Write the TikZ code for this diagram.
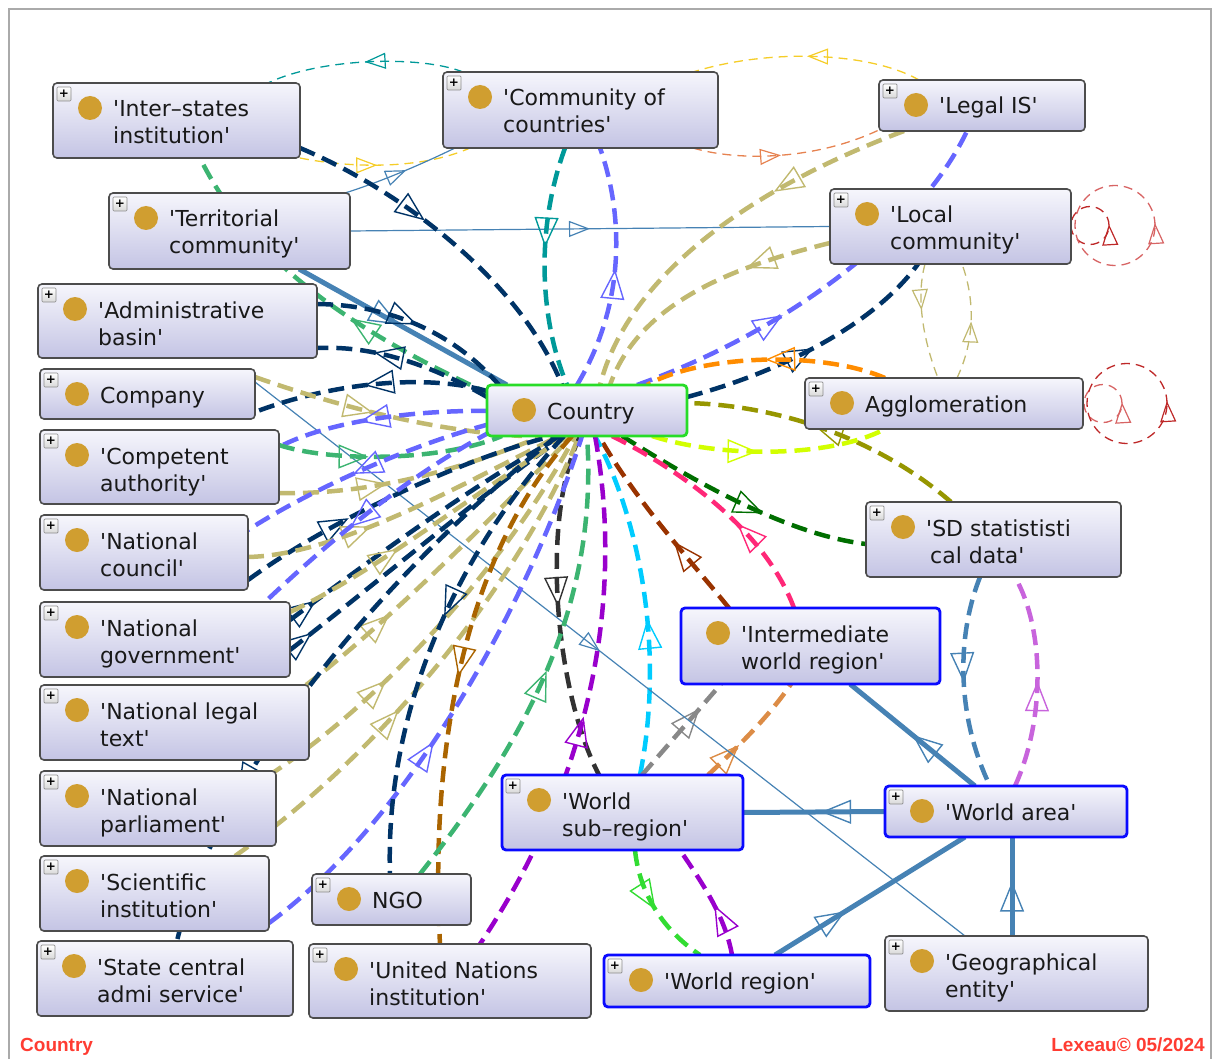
\documentclass[tikz,border=0pt]{standalone}
\usepackage{fontspec}
\newfontfamily\boxfont{DejaVu Sans}[Ligatures=TeXOff]
\newfontfamily\footfont{Liberation Sans}
\usetikzlibrary{arrows.meta,decorations.markings,backgrounds}

\definecolor{boxtop}{RGB}{246,246,252}
\definecolor{boxbot}{RGB}{196,196,228}
\definecolor{rootc}{RGB}{40,220,40}
\definecolor{wc}{RGB}{10,10,255}
\definecolor{dotc}{RGB}{208,158,48}
\definecolor{redc}{RGB}{255,60,50}
\definecolor{framec}{RGB}{170,170,170}
\definecolor{navyc}{RGB}{0,51,102}
\definecolor{khakic}{RGB}{193,185,112}
\definecolor{violc}{RGB}{102,102,255}
\definecolor{seac}{RGB}{60,180,113}
\definecolor{tealc}{RGB}{0,153,153}
\definecolor{steelc}{RGB}{70,130,180}
\definecolor{goldc}{RGB}{245,205,40}
\definecolor{coralc}{RGB}{230,130,80}
\definecolor{orangec}{RGB}{255,140,0}
\definecolor{olivec}{RGB}{150,150,0}
\definecolor{chartc}{RGB}{210,255,0}
\definecolor{dgreenc}{RGB}{0,110,0}
\definecolor{pinkc}{RGB}{255,40,120}
\definecolor{brownc}{RGB}{153,51,0}
\definecolor{cyanc}{RGB}{0,204,255}
\definecolor{dgrayc}{RGB}{50,50,50}
\definecolor{purplec}{RGB}{153,0,204}
\definecolor{limec}{RGB}{50,220,50}
\definecolor{orchidc}{RGB}{200,100,220}
\definecolor{grayc}{RGB}{136,136,136}
\definecolor{peruc}{RGB}{220,140,70}
\definecolor{umberc}{RGB}{170,100,0}
\definecolor{loopc}{RGB}{190,40,40}
\definecolor{loopl}{RGB}{215,100,100}

% a class box with its dot and label
\newcommand{\klassbare}[7][]{%
  \node[cls,#1,minimum width={#5-#3},minimum height={#6-#4}] (#2) at (#3,#4) {};
  \node[dot] (#2-d) at ([shift={(37,25)}]#2.north west) {};
  \node[lbl] (#2-t) at ([shift={(60,34)}]#2.north west)
    {\begin{tabular}[t]{@{}l@{}}#7\end{tabular}};}
% the same with the expand button
\newcommand{\klass}[7][]{%
  \klassbare[#1]{#2}{#3}{#4}{#5}{#6}{#7}%
  \node[btn] (#2-b) at ([shift={(11,11)}]#2.north west) {+};}

\begin{document}
\begin{tikzpicture}
        [x=1pt, y=-1pt,
         cls/.style={draw=black!70, line width=1.6pt, rounded corners=4pt,
           top color=boxtop, bottom color=boxbot, inner sep=0pt, outer sep=0pt, anchor=north west},
         rootbox/.style={draw=rootc, line width=2.8pt},
         wbox/.style={draw=wc, line width=2.8pt},
         dot/.style={circle, fill=dotc, minimum size=24pt, inner sep=0pt},
         lbl/.style={anchor=base west, inner sep=0pt, text={black!90},
           font=\boxfont\fontsize{22}{27}\selectfont},
         btn/.style={draw=black!45, line width=0.7pt, top color=white, bottom color=black!15,
           minimum size=14pt, inner sep=0pt, rounded corners=1pt,
           font=\boxfont\bfseries\fontsize{12}{12}\selectfont},
         foot/.style={inner sep=0pt, text=redc, font=\footfont\bfseries\fontsize{19}{19}\selectfont},
         thk/.style={draw=#1, line width=4.5pt, dash pattern=on 16pt off 8pt},
         thn/.style={draw=#1, line width=1.3pt, dash pattern=on 9pt off 6pt},
         sld/.style={draw=#1, line width=5pt},
         hair/.style={draw=#1, line width=1.2pt},
         mid/.style={postaction={decorate, decoration={markings, mark=at position #1 with
           {\pgfsetlinewidth{1.4pt}\arrow{Triangle[open, length=30pt, width=24pt]}}}}},
         rmid/.style={postaction={decorate, decoration={markings, mark=at position #1 with
           {\pgfsetlinewidth{1.4pt}\arrowreversed{Triangle[open, length=30pt, width=24pt]}}}}},
         smid/.style={postaction={decorate, decoration={markings, mark=at position #1 with
           {\pgfsetlinewidth{1.2pt}\arrow{Triangle[open, length=21pt, width=16pt]}}}}}]
    \useasboundingbox (0,0) rectangle (1214,1059);

    \klass{inter}{53}{83}{300}{158}{'Inter–states\\institution'}
    \klass{commun}{443}{72}{718}{148}{'Community of\\countries'}
    \klass{legalis}{879}{80}{1085}{131}{'Legal IS'}
    \klass{territ}{109}{193}{350}{269}{'Territorial\\community'}
    \klass{local}{830}{189}{1071}{264}{'Local\\community'}
    \klass{admin}{38}{284}{317}{358}{'Administrative\\basin'}
    \klass{company}{40}{369}{255}{419}{Company}
    \klassbare[rootbox]{country}{487}{385}{687}{436}{Country}
    \klass{agglo}{805}{378}{1083}{429}{Agglomeration}
    \klass{compet}{40}{430}{279}{504}{'Competent\\authority'}
    \klass{sdstat}{866}{502}{1121}{577}{'SD statististi\\\hspace*{4pt}cal data'}
    \klass{natcoun}{40}{515}{248}{590}{'National\\council'}
    \klass{natgov}{40}{602}{290}{677}{'National\\government'}
    \klassbare[wbox]{interm}{681}{608}{940}{684}{'Intermediate\\world region'}
    \klass{natleg}{40}{685}{309}{760}{'National legal\\text'}
    \klass[wbox]{wsub}{502}{775}{743}{850}{'World\\sub–region'}
    \klass[wbox]{warea}{885}{786}{1127}{837}{'World area'}
    \klass{natparl}{40}{771}{276}{846}{'National\\parliament'}
    \klass{scient}{40}{856}{269}{931}{'Scientific\\institution'}
    \klass{ngo}{312}{874}{471}{925}{NGO}
    \klass{statec}{37}{941}{293}{1016}{'State central\\admi service'}
    \klass{unnat}{309}{944}{591}{1018}{'United Nations\\institution'}
    \klass[wbox]{wregion}{604}{955}{870}{1007}{'World region'}
    \klass{geoent}{885}{936}{1148}{1011}{'Geographical\\entity'}

    \node[foot, anchor=base west] (ftleft) at (20,1051) {Country};
    \node[foot, anchor=base east] (ftright) at (1205,1051) {Lexeau© 05/2024};

    \begin{pgfonlayer}{background}
    \draw[framec, line width=2.5pt] (9,1059) -- (9,9) -- (1211,9) -- (1211,1059);

    % upper part
    \draw[thn=tealc, smid=.5] ([shift={(20,0)}]commun.north west) .. controls (420,55) and (320,58) .. ([shift={(215,0)}]inter.north west);
    \draw[thn=goldc, smid=.45] (inter.south east) .. controls (350,168) and (420,170) .. ([shift={(27,0)}]commun.south west);
    \draw[hair=steelc, smid=.55] ([shift={(-5,0)}]territ.north east) .. controls (380,182) and (420,165) .. ([shift={(12,0)}]commun.south west);
    \draw[thn=goldc, smid=.5] ([shift={(40,0)}]legalis.north west) .. controls (870,52) and (770,48) .. ([shift={(-25,0)}]commun.north east);
    \draw[thn=coralc, smid=.45] ([shift={(-25,0)}]commun.south east) .. controls (740,162) and (820,160) .. ([shift={(6,-4)}]legalis.south west);
    \draw[hair=steelc, smid=.5] (territ.east) -- (local.west);
    \draw[thk=tealc, mid=.42] ([shift={(122,0)}]commun.south west) .. controls (535,230) and (540,320) .. ([shift={(80,0)}]country.north west);
    \draw[thk=violc, mid=.5] ([shift={(90,0)}]country.north west) .. controls (628,300) and (622,210) .. ([shift={(157,0)}]commun.south west);
    \draw[thk=khakic, mid=.35] ([shift={(25,0)}]legalis.south west) .. controls (760,185) and (630,270) .. ([shift={(113,0)}]country.north west);
    \draw[thk=violc, mid=.38] ([shift={(150,0)}]country.north west) .. controls (790,330) and (920,230) .. ([shift={(88,0)}]legalis.south west);
    \draw[thk=khakic, mid=.32] ([shift={(0,54)}]local.north west) .. controls (740,265) and (640,300) .. ([shift={(123,0)}]country.north west);
    \draw[thk=navyc, mid=.5] ([shift={(0,12)}]country.north east) .. controls (770,375) and (870,330) .. ([shift={(88,0)}]local.south west);
    \draw[thk=orangec, mid=.5] ([shift={(80,0)}]agglo.north west) .. controls (820,350) and (700,355) .. ([shift={(160,0)}]country.north west);
    \draw[thk=olivec, mid=.55] ([shift={(85,0)}]sdstat.north west) .. controls (880,440) and (780,405) .. ([shift={(0,18)}]country.north east);
    \draw[thk=chartc, mid=.45] ([shift={(165,0)}]country.south west) .. controls (720,458) and (830,458) .. ([shift={(80,0)}]agglo.south west);
    \draw[thn=khakic, smid=.4] ([shift={(95,0)}]local.south west) .. controls (915,300) and (925,345) .. ([shift={(133,0)}]agglo.north west);
    \draw[thn=khakic, smid=.5] ([shift={(152,0)}]agglo.north west) .. controls (975,340) and (975,300) .. ([shift={(132,0)}]local.south west);
    \draw[thn=loopc, smid=.01] ([shift={(19,-1)}]local.east) circle (19pt);
    \draw[thn=loopl, smid=.01] ([shift={(44,-1)}]local.east) circle (40pt);
    \draw[thn=loopl, smid=.01] ([shift={(20,0)}]agglo.east) circle (19pt);
    \draw[thn=loopc, smid=.01] ([shift={(44,0)}]agglo.east) circle (40pt);

    % right and lower part
    \draw[thk=dgreenc, mid=.6] ([shift={(135,0)}]country.south west) .. controls (700,485) and (790,535) .. ([shift={(0,42)}]sdstat.north west);
    \draw[thk=pinkc, mid=.4] ([shift={(113,0)}]interm.north west) .. controls (765,530) and (680,470) .. ([shift={(125,0)}]country.south west);
    \draw[thk=brownc, mid=.4] ([shift={(48,0)}]interm.north west) .. controls (690,560) and (635,500) .. ([shift={(112,0)}]country.south west);
    \draw[thk=cyanc, mid=.45] ([shift={(138,0)}]wsub.north west) .. controls (665,650) and (640,520) .. ([shift={(108,0)}]country.south west);
    \draw[thk=dgrayc, mid=.5] ([shift={(93,0)}]country.south west) .. controls (540,520) and (555,690) .. ([shift={(97,0)}]wsub.north west);
    \draw[thk=purplec, rmid=.53] ([shift={(108,0)}]country.south west) .. controls (625,600) and (590,780) .. ([shift={(171,0)}]unnat.north west);
    \draw[thk=purplec, mid=.45] ([shift={(128,0)}]wregion.north west) .. controls (725,915) and (700,880) .. ([shift={(178,0)}]wsub.south west);
    \draw[thk=limec, mid=.5] ([shift={(133,0)}]wsub.south west) .. controls (640,900) and (670,935) .. ([shift={(96,0)}]wregion.north west);
    \draw[sld=steelc, mid=.5] ([shift={(90,0)}]warea.north west) -- ([shift={(169,0)}]interm.south west);
    \draw[sld=steelc, mid=.45] (warea.west) -- (wsub.east);
    \draw[sld=steelc, mid=.37] ([shift={(171,0)}]wregion.north west) -- ([shift={(80,0)}]warea.south west);
    \draw[sld=steelc, mid=.55] ([shift={(127,0)}]geoent.north west) -- ([shift={(127,0)}]warea.south west);
    \draw[thk=steelc, mid=.5] ([shift={(114,0)}]sdstat.south west) .. controls (955,640) and (958,720) .. ([shift={(105,0)}]warea.north west);
    \draw[thk=orchidc, mid=.5] ([shift={(130,0)}]warea.north west) .. controls (1045,720) and (1045,630) .. ([shift={(149,0)}]sdstat.south west);
    \draw[thk=grayc, mid=.73] ([shift={(140,0)}]wsub.north west) -- ([shift={(40,0)}]interm.south west);
    \draw[thk=peruc, mid=.35] ([shift={(-35,0)}]wsub.north east) .. controls (740,745) and (770,715) .. ([shift={(110,0)}]interm.south west);
    \draw[hair=steelc, smid=.486] ([shift={(0,13)}]company.north east) -- ([shift={(80,0)}]geoent.north west);

    % left part
    \draw[thk=navyc, mid=.4] ([shift={(0,-10)}]inter.south east) .. controls (400,190) and (520,280) .. ([shift={(75,0)}]country.north west);
    \draw[thk=seac, mid=.42] ([shift={(5,10)}]country.north west) .. controls (350,330) and (250,260) .. ([shift={(147,0)}]inter.south west);
    \draw[sld=steelc, mid=.48] ([shift={(190,0)}]territ.south west) -- ([shift={(20,0)}]country.north west);
    \draw[thk=navyc, mid=.5] ([shift={(0,20)}]admin.north east) .. controls (400,305) and (460,340) .. ([shift={(12,0)}]country.north west);
    \draw[thk=navyc, mid=.68] ([shift={(0,12)}]country.north west) .. controls (440,370) and (380,345) .. ([shift={(0,-10)}]admin.south east);
    \draw[thk=navyc, mid=.5] ([shift={(0,6)}]country.north west) .. controls (420,372) and (320,385) .. ([shift={(-10,-3)}]company.south east);
    \draw[thk=khakic, mid=.45] ([shift={(0,8)}]company.north east) .. controls (320,400) and (420,430) .. ([shift={(35,0)}]country.south west);
    \draw[thk=violc, mid=.6] ([shift={(0,-25)}]country.south west) .. controls (420,410) and (330,420) .. ([shift={(0,17)}]compet.north east);
    \draw[thk=seac, mid=.4] ([shift={(0,15)}]compet.north east) .. controls (330,462) and (440,462) .. ([shift={(15,0)}]country.south west);
    \draw[thk=khakic, mid=.4] ([shift={(0,-11)}]compet.south east) .. controls (370,495) and (460,470) .. ([shift={(55,0)}]country.south west);
    \draw[thk=violc, mid=.55] ([shift={(3,-12)}]country.south west) .. controls (410,445) and (310,490) .. ([shift={(0,15)}]natcoun.north east);
    \draw[thk=navyc, mid=.35] ([shift={(0,-10)}]natcoun.south east) .. controls (330,520) and (460,460) .. ([shift={(65,0)}]country.south west);
    \draw[thk=khakic, mid=.38] ([shift={(0,-33)}]natcoun.south east) .. controls (340,555) and (470,480) .. ([shift={(72,0)}]country.south west);
    \draw[thk=violc, mid=.6] ([shift={(5,-5)}]country.south west) .. controls (400,480) and (320,550) .. ([shift={(-25,0)}]natgov.north east);
    \draw[thk=navyc, mid=.1] ([shift={(0,18)}]natgov.north east) .. controls (370,560) and (480,480) .. ([shift={(75,0)}]country.south west);
    \draw[thk=navyc, mid=.08] ([shift={(0,-27)}]natgov.south east) .. controls (380,580) and (500,480) .. ([shift={(78,0)}]country.south west);
    \draw[thk=khakic, mid=.38] ([shift={(0,10)}]natgov.north east) .. controls (380,570) and (490,480) .. ([shift={(82,0)}]country.south west);
    \draw[thk=khakic, mid=.3] ([shift={(-3,0)}]natleg.north east) .. controls (380,630) and (500,510) .. ([shift={(85,0)}]country.south west);
    \draw[thk=khakic, mid=.33] ([shift={(-8,5)}]natparl.north east) .. controls (400,690) and (520,540) .. ([shift={(88,0)}]country.south west);
    \draw[thk=khakic, mid=.4] ([shift={(195,0)}]scient.north west) .. controls (400,740) and (530,560) .. ([shift={(92,0)}]country.south west);
    \draw[thk=violc, mid=.42] ([shift={(0,-8)}]scient.south east) .. controls (410,820) and (530,600) .. ([shift={(95,0)}]country.south west);
    \draw[thk=navyc, mid=.45] ([shift={(77,0)}]country.south west) .. controls (450,560) and (385,720) .. ([shift={(78,0)}]ngo.north west);
    \draw[thk=umberc, mid=.5] ([shift={(85,0)}]country.south west) .. controls (460,560) and (430,760) .. ([shift={(131,0)}]unnat.north west);
    \draw[thk=seac, mid=.5] ([shift={(108,0)}]ngo.north west) .. controls (510,760) and (600,620) .. ([shift={(100,0)}]country.south west);
    \draw[thk=navyc, mid=.75] ([shift={(70,0)}]country.south west) .. controls (400,560) and (220,760) .. ([shift={(140,0)}]statec.north west);
    \end{pgfonlayer}
\end{tikzpicture}
\end{document}
